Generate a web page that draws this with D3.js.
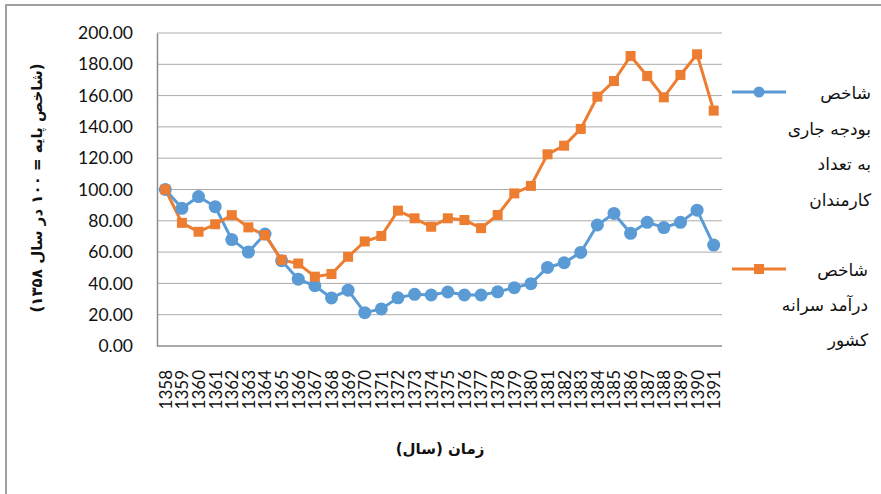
<!DOCTYPE html>
<html>
<head>
<meta charset="utf-8">
<script src="https://cdn.jsdelivr.net/npm/d3@7"></script>
<style>
  body { margin: 0; background: #fff; }
  svg { display: block; }
</style>
</head>
<body>
<svg id="chart"></svg>
<script>
const width = 881;
const height = 494;

const years = d3.range(1358, 1392).map(String);
const budget = [100, 88, 95.5, 89, 68, 60, 71.5, 54.5, 42.7, 38.5, 30.7, 35.7, 21.3, 23.7, 30.8, 33, 32.6, 34.5,
  32.6, 32.6, 34.6, 37.3, 39.8, 50.2, 53.2, 59.8, 77.3, 84.7, 72, 79, 75.7, 79, 86.8, 64.5];
const income = [100, 78.7, 73, 77.8, 83.6, 75.8, 70.8, 55, 52.7, 44.3, 46, 57, 66.8, 70.3, 86.5, 81.6, 76.2, 81.6,
  80.5, 75.3, 83.7, 97.5, 102.3, 122.5, 128, 138.7, 159.3, 169.3, 185.3, 172.5, 158.9, 173.2, 186.4, 150.4];
const yTicks = [0, 20, 40, 60, 80, 100, 120, 140, 160, 180, 200];
const legendBudget = ['شاخص', 'بودجه جاری', 'به تعداد', 'کارمندان'];
const legendIncome = ['شاخص', 'درآمد سرانه', 'کشور'];

const blue = '#5B9BD5';
const orange = '#ED7D31';
const numFont = 'Lato, "Open Sans", sans-serif';
const faFont = '"DejaVu Sans", "Noto Sans", sans-serif';

const plot = {left: 157, right: 722, top: 33, bottom: 346};

const svg = d3.select('#chart')
  .attr('width', width)
  .attr('height', height);

// outer frame
svg.append('rect')
  .attr('x', 6).attr('y', 5)
  .attr('width', width + 10).attr('height', height + 10)
  .attr('fill', 'none')
  .attr('stroke', '#a0a0a0')
  .attr('stroke-width', 2);

const x = d3.scalePoint().domain(years).range([plot.left, plot.right]).padding(0.5);
const y = d3.scaleLinear().domain([0, 200]).range([plot.bottom, plot.top]);

// gridlines
svg.append('g')
  .selectAll('line')
  .data(yTicks.filter(d => d > 0))
  .join('line')
  .attr('x1', plot.left).attr('x2', plot.right)
  .attr('y1', d => y(d)).attr('y2', d => y(d))
  .attr('stroke', '#ababab')
  .attr('stroke-width', 1);

// y axis
const yAxis = svg.append('g')
  .attr('transform', `translate(${plot.left},0)`)
  .call(d3.axisLeft(y).tickValues(yTicks).tickFormat(d3.format('.2f')).tickSize(0).tickPadding(24));
yAxis.select('.domain').attr('stroke', '#8c8c8c').attr('stroke-width', 1.5);
yAxis.selectAll('text')
  .attr('font-family', numFont)
  .attr('font-size', 17.5)
  .attr('fill', '#111');

// x axis
const xAxis = svg.append('g')
  .attr('transform', `translate(0,${plot.bottom})`)
  .call(d3.axisBottom(x).tickSize(0).tickPadding(0));
xAxis.select('.domain')
  .attr('d', `M${plot.left},0H${plot.right}`)
  .attr('stroke', '#8c8c8c').attr('stroke-width', 1.5);
xAxis.selectAll('text')
  .attr('font-family', numFont)
  .attr('font-size', 17)
  .attr('fill', '#111')
  .attr('text-anchor', 'end')
  .attr('dy', '0.35em')
  .attr('transform', 'translate(0,24) rotate(-90)');

// lines
const line = d3.line()
  .x((d, i) => x(years[i]))
  .y(d => y(d));

svg.append('path')
  .datum(budget)
  .attr('d', line)
  .attr('fill', 'none')
  .attr('stroke', blue)
  .attr('stroke-width', 3);

svg.append('path')
  .datum(income)
  .attr('d', line)
  .attr('fill', 'none')
  .attr('stroke', orange)
  .attr('stroke-width', 3);

svg.append('g')
  .selectAll('circle')
  .data(budget)
  .join('circle')
  .attr('cx', (d, i) => x(years[i]))
  .attr('cy', d => y(d))
  .attr('r', 6.5)
  .attr('fill', blue);

svg.append('g')
  .selectAll('rect')
  .data(income)
  .join('rect')
  .attr('x', (d, i) => x(years[i]) - 5)
  .attr('y', d => y(d) - 5)
  .attr('width', 10)
  .attr('height', 10)
  .attr('fill', orange);

// legend
const legend = svg.append('g');
legend.append('line')
  .attr('x1', 732).attr('x2', 786).attr('y1', 92).attr('y2', 92)
  .attr('stroke', blue).attr('stroke-width', 3);
legend.append('circle')
  .attr('cx', 759).attr('cy', 92).attr('r', 5.5).attr('fill', blue);
legend.selectAll('.lb')
  .data(legendBudget)
  .join('text')
  .attr('class', 'lb')
  .attr('x', 871)
  .attr('y', (d, i) => 99 + i * 35.5)
  .attr('text-anchor', 'start')
  .attr('direction', 'rtl')
  .attr('font-family', faFont)
  .attr('font-size', 17)
  .attr('fill', '#111')
  .text(d => d);

legend.append('line')
  .attr('x1', 732).attr('x2', 786).attr('y1', 269).attr('y2', 269)
  .attr('stroke', orange).attr('stroke-width', 3);
legend.append('rect')
  .attr('x', 754).attr('y', 264).attr('width', 10).attr('height', 10).attr('fill', orange);
legend.selectAll('.li')
  .data(legendIncome)
  .join('text')
  .attr('class', 'li')
  .attr('x', 868)
  .attr('y', (d, i) => 276 + i * 35)
  .attr('text-anchor', 'start')
  .attr('direction', 'rtl')
  .attr('font-family', faFont)
  .attr('font-size', 17)
  .attr('fill', '#111')
  .text(d => d);

// axis titles
svg.append('text')
  .attr('transform', 'translate(37,188) rotate(-90)')
  .attr('text-anchor', 'middle')
  .attr('dy', '0.35em')
  .attr('direction', 'rtl')
  .attr('font-family', faFont)
  .attr('font-weight', 'bold')
  .attr('font-size', 15)
  .attr('fill', '#111')
  .text('(شاخص پایه = ۱۰۰ در سال ۱۳۵۸)');

svg.append('text')
  .attr('x', 440)
  .attr('y', 454)
  .attr('text-anchor', 'middle')
  .attr('direction', 'rtl')
  .attr('font-family', faFont)
  .attr('font-weight', 'bold')
  .attr('font-size', 15)
  .attr('fill', '#111')
  .text('زمان (سال)');
</script>
</body>
</html>
